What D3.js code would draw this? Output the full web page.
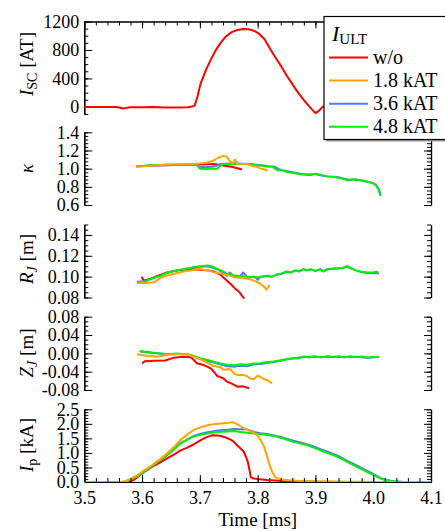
<!DOCTYPE html>
<html>
<head>
<meta charset="utf-8">
<script src="https://cdn.jsdelivr.net/npm/d3@7"></script>
<style>
  body { margin: 0; background: #fff; }
  svg text { font-family: "Liberation Serif", "Times New Roman", serif !important; }
  .domain { stroke: #000; stroke-width: 1.2; }
  .tick line { stroke: #000; stroke-width: 1; }
</style>
</head>
<body>
<svg id="chart" width="445" height="532"></svg>
<script>
// ---- data ----
var timeTicks = [3.5, 3.6, 3.7, 3.8, 3.9, 4.0, 4.1];
var iscTicks = [0, 400, 800, 1200];
var kappaTicks = [0.6, 0.8, 1.0, 1.2, 1.4];
var rjTicks = [0.08, 0.10, 0.12, 0.14];
var zjTicks = [-0.08, -0.04, 0.00, 0.04, 0.08];
var ipTicks = [0, 0.5, 1.0, 1.5, 2.0, 2.5];

var legendNames = ["w/o", "1.8 kAT", "3.6 kAT", "4.8 kAT"];
var seriesColors = ["#ff0000", "#ffa500", "#4f7cff", "#00ee00"];

var iscRed = [[3.500,0],[3.530,-2],[3.555,-3],[3.562,-12],[3.567,-22],[3.573,-14],[3.580,-6],[3.600,-4],[3.620,-3],[3.640,-8],[3.660,-7],[3.680,-4],[3.686,4],[3.691,18],[3.696,150],[3.701,320],[3.710,510],[3.718,650],[3.727,790],[3.736,900],[3.745,990],[3.755,1050],[3.765,1082],[3.775,1093],[3.785,1090],[3.795,1065],[3.803,1025],[3.812,950],[3.822,810],[3.832,680],[3.842,555],[3.851,430],[3.860,320],[3.870,200],[3.880,95],[3.890,0],[3.900,-88],[3.906,-55],[3.912,-4],[3.918,30]];

var kappaRed = [[3.590,1.025],[3.600,1.03],[3.620,1.035],[3.640,1.038],[3.660,1.04],[3.680,1.043],[3.700,1.045],[3.715,1.048],[3.725,1.05],[3.735,1.04],[3.745,1.03],[3.755,1.02],[3.765,1.005],[3.773,0.99]];
var kappaOrange = [[3.590,1.02],[3.600,1.025],[3.620,1.035],[3.643,1.045],[3.660,1.048],[3.680,1.05],[3.700,1.058],[3.712,1.065],[3.724,1.09],[3.732,1.12],[3.740,1.14],[3.746,1.135],[3.752,1.08],[3.757,1.06],[3.761,1.10],[3.765,1.045],[3.772,1.05],[3.781,1.052],[3.790,1.03],[3.798,1.02],[3.806,1.0],[3.812,0.99],[3.817,0.98]];
var kappaBlue = [[3.590,1.025],[3.620,1.035],[3.650,1.04],[3.680,1.045],[3.695,1.04],[3.700,1.02],[3.710,1.015],[3.720,1.02],[3.728,1.03],[3.735,1.05],[3.745,1.055],[3.760,1.06],[3.775,1.055],[3.790,1.05],[3.800,1.04],[3.810,1.035],[3.820,1.025],[3.830,1.02],[3.840,0.985],[3.850,0.975],[3.860,0.96],[3.870,0.95],[3.880,0.935],[3.890,0.93],[3.900,0.94],[3.910,0.925],[3.920,0.915],[3.930,0.91],[3.940,0.905],[3.950,0.89],[3.960,0.875],[3.970,0.88],[3.980,0.87],[3.990,0.855],[4.000,0.84],[4.005,0.82],[4.010,0.77],[4.013,0.70]];
var kappaGreen = [[3.590,1.025],[3.620,1.04],[3.650,1.042],[3.680,1.045],[3.695,1.04],[3.700,1.0],[3.710,0.995],[3.720,1.0],[3.730,1.0],[3.735,1.03],[3.740,1.05],[3.750,1.05],[3.760,1.055],[3.770,1.05],[3.780,1.05],[3.790,1.045],[3.800,1.03],[3.805,1.04],[3.810,1.03],[3.820,1.02],[3.825,1.025],[3.830,1.0],[3.835,0.98],[3.840,0.99],[3.850,0.965],[3.860,0.955],[3.870,0.945],[3.875,0.935],[3.880,0.94],[3.890,0.935],[3.900,0.945],[3.910,0.93],[3.920,0.915],[3.930,0.91],[3.940,0.9],[3.950,0.885],[3.955,0.87],[3.960,0.88],[3.970,0.88],[3.980,0.87],[3.990,0.855],[4.000,0.84],[4.005,0.815],[4.010,0.76],[4.012,0.71]];

var rjRed = [[3.599,0.1],[3.603,0.096],[3.615,0.098],[3.630,0.1015],[3.643,0.104],[3.660,0.106],[3.672,0.1066],[3.690,0.107],[3.701,0.1066],[3.715,0.106],[3.724,0.105],[3.736,0.1017],[3.747,0.096],[3.755,0.092],[3.762,0.088],[3.768,0.0855],[3.773,0.0816],[3.777,0.079]];
var rjOrange = [[3.591,0.0936],[3.605,0.094],[3.620,0.0946],[3.630,0.098],[3.637,0.1],[3.650,0.102],[3.672,0.105],[3.690,0.1065],[3.701,0.107],[3.715,0.106],[3.724,0.1043],[3.735,0.103],[3.747,0.1017],[3.759,0.0995],[3.770,0.099],[3.782,0.098],[3.790,0.097],[3.800,0.0946],[3.805,0.093],[3.810,0.0907],[3.816,0.0875],[3.820,0.092]];
var rjBlue = [[3.591,0.095],[3.605,0.0955],[3.615,0.098],[3.630,0.1005],[3.643,0.1035],[3.660,0.106],[3.672,0.107],[3.690,0.109],[3.700,0.1095],[3.713,0.11],[3.720,0.109],[3.730,0.107],[3.740,0.104],[3.747,0.101],[3.752,0.104],[3.759,0.1],[3.770,0.1005],[3.775,0.104],[3.782,0.0995],[3.795,0.1],[3.800,0.097],[3.805,0.1],[3.816,0.1005],[3.825,0.1],[3.833,0.102],[3.840,0.1025],[3.850,0.1045],[3.857,0.104],[3.866,0.106],[3.872,0.105],[3.879,0.107],[3.885,0.106],[3.892,0.107],[3.900,0.1055],[3.908,0.107],[3.914,0.105],[3.920,0.107],[3.930,0.1075],[3.940,0.108],[3.948,0.1085],[3.955,0.1095],[3.962,0.108],[3.970,0.106],[3.980,0.1045],[3.990,0.1035],[4.000,0.1035],[4.010,0.103]];
var rjGreen = [[3.591,0.0946],[3.605,0.095],[3.615,0.098],[3.630,0.1005],[3.643,0.1037],[3.660,0.106],[3.672,0.107],[3.690,0.109],[3.700,0.11],[3.713,0.1108],[3.720,0.11],[3.730,0.1075],[3.740,0.105],[3.747,0.1027],[3.759,0.101],[3.770,0.1005],[3.782,0.1],[3.795,0.0995],[3.805,0.0995],[3.816,0.101],[3.825,0.1],[3.833,0.102],[3.840,0.1025],[3.850,0.105],[3.857,0.104],[3.866,0.106],[3.872,0.105],[3.879,0.1075],[3.885,0.106],[3.892,0.107],[3.900,0.1055],[3.908,0.107],[3.914,0.105],[3.920,0.107],[3.930,0.1075],[3.940,0.108],[3.948,0.1085],[3.955,0.11],[3.962,0.108],[3.970,0.106],[3.980,0.1045],[3.990,0.104],[4.000,0.104],[4.008,0.105]];

var zjRed = [[3.600,-0.0218],[3.605,-0.017],[3.620,-0.016],[3.640,-0.0155],[3.655,-0.0094],[3.670,-0.0073],[3.684,-0.0087],[3.690,-0.015],[3.695,-0.0218],[3.705,-0.025],[3.713,-0.029],[3.720,-0.034],[3.724,-0.04],[3.730,-0.0494],[3.740,-0.054],[3.747,-0.0618],[3.755,-0.066],[3.765,-0.0727],[3.775,-0.072],[3.785,-0.0763]];
var zjOrange = [[3.591,-0.002],[3.610,-0.006],[3.626,-0.0073],[3.643,-0.0036],[3.660,-0.002],[3.678,-0.002],[3.690,-0.008],[3.701,-0.013],[3.712,-0.02],[3.724,-0.0276],[3.735,-0.03],[3.741,-0.036],[3.750,-0.034],[3.753,-0.035],[3.760,-0.045],[3.765,-0.047],[3.775,-0.047],[3.782,-0.05],[3.787,-0.055],[3.793,-0.0567],[3.800,-0.049],[3.806,-0.052],[3.810,-0.056],[3.816,-0.058],[3.825,-0.0654]];
var zjBlue = [[3.596,0.004],[3.610,0.002],[3.626,0.0],[3.643,-0.002],[3.660,-0.001],[3.678,-0.002],[3.690,-0.007],[3.701,-0.012],[3.712,-0.016],[3.724,-0.02],[3.735,-0.024],[3.747,-0.028],[3.760,-0.029],[3.770,-0.027],[3.782,-0.028],[3.793,-0.024],[3.805,-0.023],[3.816,-0.021],[3.828,-0.019],[3.840,-0.016],[3.850,-0.013],[3.862,-0.011],[3.870,-0.0095],[3.880,-0.008],[3.897,-0.0075],[3.910,-0.008],[3.930,-0.0073],[3.950,-0.008],[3.970,-0.0073],[3.990,-0.0094],[4.010,-0.008]];
var zjGreen = [[3.596,0.005],[3.610,0.003],[3.626,0.0],[3.643,-0.0015],[3.660,-0.001],[3.678,-0.0015],[3.690,-0.006],[3.701,-0.011],[3.712,-0.014],[3.724,-0.018],[3.735,-0.022],[3.747,-0.025],[3.760,-0.026],[3.770,-0.024],[3.782,-0.025],[3.793,-0.022],[3.805,-0.0218],[3.816,-0.019],[3.828,-0.018],[3.840,-0.015],[3.850,-0.013],[3.862,-0.01],[3.870,-0.011],[3.880,-0.007],[3.890,-0.009],[3.897,-0.0065],[3.910,-0.009],[3.920,-0.006],[3.930,-0.0085],[3.940,-0.0065],[3.950,-0.009],[3.960,-0.0065],[3.970,-0.0085],[3.980,-0.007],[3.990,-0.0094],[4.000,-0.0075],[4.010,-0.008]];

var ipRed = [[3.500,0],[3.575,0],[3.585,0.06],[3.594,0.2],[3.605,0.36],[3.617,0.52],[3.630,0.66],[3.643,0.81],[3.655,0.94],[3.666,1.08],[3.678,1.18],[3.689,1.29],[3.698,1.4],[3.707,1.5],[3.715,1.57],[3.722,1.61],[3.730,1.6],[3.736,1.58],[3.745,1.53],[3.753,1.46],[3.759,1.38],[3.764,1.27],[3.770,1.16],[3.776,1.04],[3.780,0.85],[3.783,0.69],[3.786,0.4],[3.788,0.17],[3.793,0.12],[3.800,0.1],[3.816,0.07],[3.830,0.05],[3.845,0.03],[3.870,0.02],[3.900,0.01],[3.950,0],[4.100,0]];
var ipOrange = [[3.500,0],[3.565,0],[3.571,0.035],[3.580,0.1],[3.594,0.265],[3.605,0.42],[3.617,0.576],[3.630,0.77],[3.643,0.98],[3.655,1.2],[3.666,1.44],[3.678,1.63],[3.689,1.79],[3.698,1.86],[3.707,1.92],[3.715,1.96],[3.724,1.99],[3.733,2.0],[3.741,2.02],[3.750,2.04],[3.756,2.06],[3.760,2.03],[3.764,1.99],[3.772,1.9],[3.782,1.79],[3.790,1.72],[3.799,1.61],[3.805,1.45],[3.811,1.21],[3.816,0.9],[3.820,0.63],[3.825,0.35],[3.831,0.15],[3.840,0.09],[3.855,0.06],[3.874,0.035],[3.920,0.02],[3.970,0.01],[4.020,0],[4.100,0]];
var ipBlue = [[3.500,0],[3.568,0],[3.577,0.05],[3.594,0.22],[3.617,0.54],[3.643,0.92],[3.666,1.33],[3.689,1.58],[3.700,1.65],[3.713,1.71],[3.724,1.75],[3.736,1.78],[3.748,1.8],[3.759,1.82],[3.770,1.81],[3.778,1.82],[3.785,1.78],[3.793,1.72],[3.805,1.68],[3.816,1.65],[3.828,1.6],[3.840,1.55],[3.850,1.49],[3.862,1.42],[3.874,1.36],[3.885,1.3],[3.897,1.22],[3.909,1.13],[3.920,1.05],[3.932,0.96],[3.944,0.85],[3.955,0.73],[3.966,0.62],[3.978,0.5],[3.987,0.41],[3.996,0.32],[4.005,0.22],[4.013,0.13],[4.022,0.07],[4.035,0.03],[4.050,0.01],[4.070,0],[4.100,0]];
var ipGreen = [[3.500,0],[3.568,0],[3.577,0.058],[3.594,0.23],[3.605,0.38],[3.617,0.55],[3.630,0.73],[3.643,0.92],[3.655,1.12],[3.666,1.32],[3.678,1.46],[3.689,1.56],[3.700,1.62],[3.713,1.67],[3.724,1.7],[3.736,1.73],[3.748,1.74],[3.759,1.75],[3.770,1.72],[3.782,1.69],[3.793,1.68],[3.805,1.65],[3.816,1.62],[3.828,1.58],[3.840,1.52],[3.850,1.46],[3.862,1.38],[3.874,1.32],[3.885,1.27],[3.897,1.18],[3.909,1.09],[3.920,1.0],[3.932,0.92],[3.944,0.81],[3.955,0.69],[3.966,0.58],[3.978,0.46],[3.987,0.37],[3.996,0.29],[4.005,0.2],[4.013,0.115],[4.022,0.06],[4.030,0.035],[4.045,0.01],[4.060,0],[4.100,0]];

// ---- layout ----
var serif = "'Liberation Serif', 'Times New Roman', serif";
var svg = d3.select("#chart");
var x0 = 84.3, x1 = 431;
var x = d3.scaleLinear().domain([3.5, 4.1]).range([x0, x1]);

// each panel: y domain, pixel range, ticks, label parts, series (drawn red, blue, green, orange)
var panels = [
  {domain: [-100, 1200], range: [114, 21.5], major: iscTicks, minor: 100, fmt: function(d){ return d; },
   labelY: 64, label: [["I","italic"],["SC","sub"],[" [AT]",""]],
   series: [[iscRed, 0]]},
  {domain: [0.6, 1.4], range: [205, 132.3], major: kappaTicks, minor: 0.04, fmt: function(d){ return d.toFixed(1); },
   labelY: 168.5, label: [["\u03ba","italic"]],
   series: [[kappaRed, 0], [kappaBlue, 2], [kappaGreen, 3], [kappaOrange, 1]]},
  {domain: [0.08, 0.15], range: [297.5, 224.5], major: rjTicks, minor: 0.005, fmt: function(d){ return d.toFixed(2); },
   labelY: 259, label: [["R","italic"],["J","subi"],[" [m]",""]],
   series: [[rjRed, 0], [rjBlue, 2], [rjGreen, 3], [rjOrange, 1]]},
  {domain: [-0.08, 0.08], range: [390, 316.7], major: zjTicks, minor: 0.01, fmt: function(d){ return d.toFixed(2); },
   labelY: 353, label: [["Z","italic"],["J","subi"],[" [m]",""]],
   series: [[zjRed, 0], [zjBlue, 2], [zjGreen, 3], [zjOrange, 1]]},
  {domain: [0, 2.5], range: [482, 409.3], major: ipTicks, minor: 0.1, fmt: function(d){ return d.toFixed(1); },
   labelY: 445, label: [["I","italic"],["p","sub"],[" [kA]",""]],
   series: [[ipRed, 0], [ipBlue, 2], [ipGreen, 3], [ipOrange, 1]]}
];

function styleAxis(g) {
  g.attr("font-size", 18).attr("font-family", null);
  g.selectAll(".tick text").attr("fill", "#000").style("font-family", serif);
}

panels.forEach(function(p) {
  var y = d3.scaleLinear().domain(p.domain).range(p.range);
  var minor = d3.range(p.domain[0], p.domain[1] + p.minor / 2, p.minor);

  var g = svg.append("g");
  // left axis
  g.append("g").attr("transform", "translate(" + x0 + ",0)")
    .call(d3.axisLeft(y).tickValues(minor).tickSize(-4).tickSizeOuter(0).tickFormat(""));
  g.append("g").attr("transform", "translate(" + x0 + ",0)")
    .call(d3.axisLeft(y).tickValues(p.major).tickSize(-8).tickSizeOuter(0).tickPadding(5).tickFormat(p.fmt))
    .call(styleAxis);
  // right axis
  g.append("g").attr("transform", "translate(" + x1 + ",0)")
    .call(d3.axisRight(y).tickValues(minor).tickSize(-4).tickSizeOuter(0).tickFormat(""));
  g.append("g").attr("transform", "translate(" + x1 + ",0)")
    .call(d3.axisRight(y).tickValues(p.major).tickSize(-7).tickSizeOuter(0).tickFormat(""));

  var line = d3.line().x(function(d){ return x(d[0]); }).y(function(d){ return y(d[1]); });
  p.series.forEach(function(s) {
    g.append("path").datum(s[0])
      .attr("d", line)
      .attr("fill", "none")
      .attr("stroke", seriesColors[s[1]])
      .attr("stroke-width", 2)
      .attr("stroke-linejoin", "round");
  });

  // y label
  var t = svg.append("text")
    .attr("transform", "translate(33," + p.labelY + ") rotate(-90)")
    .attr("text-anchor", "middle")
    .attr("font-size", 19)
    .attr("fill", "#000")
    .style("font-family", serif);
  var shift = 0;
  p.label.forEach(function(part) {
    var ts = t.append("tspan").text(part[0]);
    if (part[1] === "italic") ts.attr("font-style", "italic");
    if (part[1] === "sub" || part[1] === "subi") {
      ts.attr("font-size", 14).attr("dy", 4);
      if (part[1] === "subi") ts.attr("font-style", "italic");
      shift = 4;
    } else if (shift) {
      ts.attr("dy", -shift);
      shift = 0;
    }
  });
});

// time axes: top of first panel, bottom of last panel
var minorT = d3.range(3.5, 4.1 + 0.01, 0.02);
svg.append("g").attr("transform", "translate(0,21.5)")
  .call(d3.axisTop(x).tickValues(minorT).tickSize(-4).tickSizeOuter(0).tickFormat(""));
svg.append("g").attr("transform", "translate(0,21.5)")
  .call(d3.axisTop(x).tickValues(timeTicks).tickSize(-7).tickSizeOuter(0).tickFormat(""));
svg.append("g").attr("transform", "translate(0,482)")
  .call(d3.axisBottom(x).tickValues(minorT).tickSize(-4).tickSizeOuter(0).tickFormat(""));
svg.append("g").attr("transform", "translate(0,482)")
  .call(d3.axisBottom(x).tickValues(timeTicks).tickSize(-7).tickSizeOuter(0).tickPadding(9).tickFormat(function(d){ return d.toFixed(1); }))
  .call(styleAxis);

svg.append("text")
  .attr("x", (x0 + x1) / 2).attr("y", 526)
  .attr("text-anchor", "middle")
  .attr("font-size", 19)
  .style("font-family", serif)
  .text("Time [ms]");

// legend
var lg = svg.append("g");
lg.append("rect").attr("x", 326).attr("y", 18.5).attr("width", 130).attr("height", 123).attr("fill", "#999");
lg.append("rect").attr("x", 324).attr("y", 16.5).attr("width", 130).attr("height", 123)
  .attr("fill", "#fff").attr("stroke", "#000").attr("stroke-width", 1.2);
var title = lg.append("text").attr("x", 332).attr("y", 41).attr("font-size", 22).style("font-family", serif);
title.append("tspan").attr("font-style", "italic").text("I");
title.append("tspan").attr("font-size", 15).attr("dy", 3).text("ULT");

legendNames.forEach(function(name, i) {
  var ry = 57.5 + i * 23.1;
  lg.append("line").attr("x1", 329).attr("x2", 368).attr("y1", ry).attr("y2", ry)
    .attr("stroke", seriesColors[i]).attr("stroke-width", 2);
  lg.append("text").attr("x", 373).attr("y", ry).attr("dy", "0.33em")
    .attr("font-size", 20).style("font-family", serif).text(name);
});
</script>
</body>
</html>
